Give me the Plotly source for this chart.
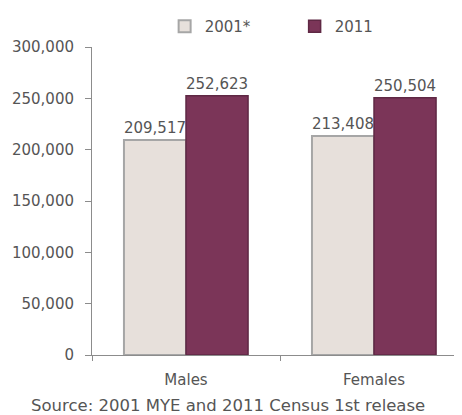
import plotly.graph_objects as go

categories = ["Males", "Females"]
series_2001 = [209517, 213408]
series_2011 = [252623, 250504]
series_names = ["2001*", "2011"]
y_ticks = [0, 50000, 100000, 150000, 200000, 250000, 300000]
source_text = "Source: 2001 MYE and 2011 Census 1st release"

font = dict(family="DejaVu Sans, Liberation Sans, sans-serif", size=15, color="#555555")

fig = go.Figure()
fig.add_trace(go.Bar(
    x=categories, y=series_2001, name=series_names[0],
    marker=dict(color="#E7E0DB", line=dict(color="#A6A6A6", width=2)),
    texttemplate="%{y:,}", textposition="outside",
    textfont=font, cliponaxis=False,
))
fig.add_trace(go.Bar(
    x=categories, y=series_2011, name=series_names[1],
    marker=dict(color="#7B3558", line=dict(color="#5F2844", width=1.5)),
    texttemplate="%{y:,}", textposition="outside",
    textfont=font, cliponaxis=False,
))

fig.update_layout(
    width=454, height=407,
    margin=dict(l=84, r=0, t=39, b=60, autoexpand=False),
    paper_bgcolor="white", plot_bgcolor="white",
    barmode="group", bargap=0.34, bargroupgap=0,
    font=font,
    showlegend=True,
    legend=dict(orientation="h", x=0.345, y=0.995, xref="container", yref="container",
                xanchor="left", yanchor="top", font=font,
                traceorder="normal", entrywidth=85),
    annotations=[dict(text=source_text,
                      x=0.368, xref="paper", y=-0.165, yref="paper",
                      xanchor="center", yanchor="middle", showarrow=False,
                      font=dict(family=font["family"], size=16.5, color=font["color"]))],
)
fig.update_xaxes(
    range=[-0.5, 1.468], showline=True, linecolor="#8C8C8C", linewidth=1,
    ticks="outside", tickson="boundaries", ticklen=5, tickcolor="#8C8C8C",
    showgrid=False, tickfont=font, ticklabelstandoff=11, automargin=False,
)
fig.update_yaxes(
    range=[0, 300000], tickvals=y_ticks, tickformat=",",
    showline=True, linecolor="#8C8C8C", linewidth=1,
    ticks="outside", ticklen=6, tickcolor="#8C8C8C",
    showgrid=False, zeroline=False, tickfont=font, ticklabelstandoff=8,
    automargin=False,
)

fig.write_html("out.html")
